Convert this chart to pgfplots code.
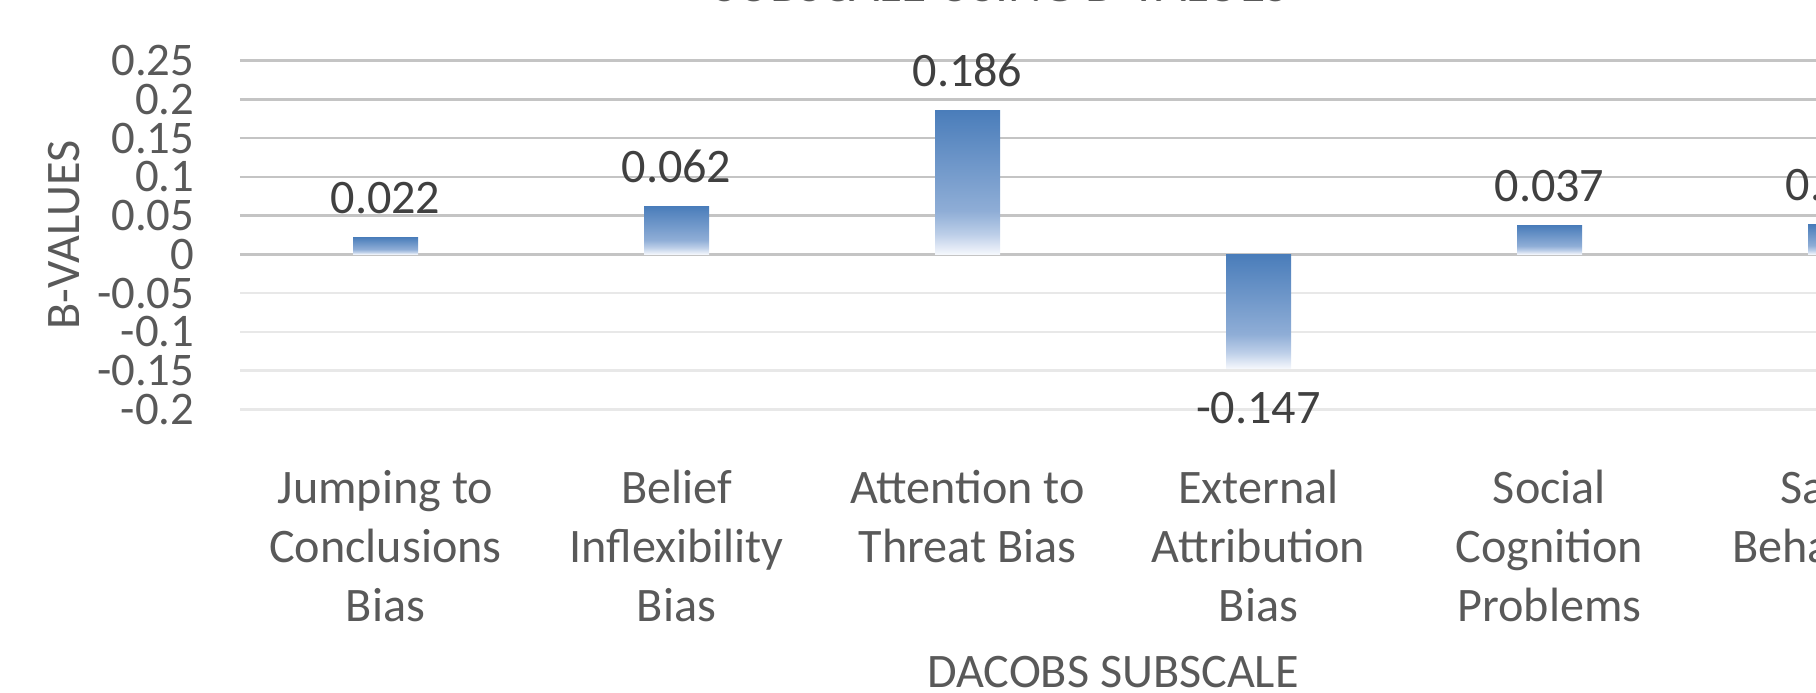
\documentclass[border=0pt]{standalone}
\usepackage{fontspec}
\setmainfont{Carlito}
\usepackage{pgfplots}
\pgfplotsset{compat=1.18}
\definecolor{txt}{HTML}{595959}
\definecolor{lbl}{HTML}{404040}
\definecolor{gridA}{HTML}{C4C4C4}
\definecolor{gridB}{HTML}{E8E8E8}
\pgfdeclareverticalshading{barfade}{100bp}{rgb(0bp)=(0.96,0.97,0.99); rgb(25bp)=(0.96,0.97,0.99); rgb(32bp)=(0.74,0.81,0.91); rgb(40bp)=(0.56,0.68,0.84); rgb(75bp)=(0.29,0.49,0.73); rgb(100bp)=(0.29,0.49,0.73)}
\begin{document}
\begin{tikzpicture}
\useasboundingbox (0,0) rectangle (18.16cm,6.93cm);
\clip (0,0) rectangle (18.16cm,6.93cm);
\node[anchor=base, font=\fontsize{14.7}{17}\selectfont, text=txt] at (10.01cm,6.912cm) {SUBSCALE USING B-VALUES};
\begin{axis}[
  at={(2.40cm,2.836cm)}, anchor=south west,
  scale only axis, width=17.46cm, height=3.488cm,
  xmin=-0.5, xmax=5.5, ymin=-0.2, ymax=0.25,
  enlargelimits=false,
  axis line style={draw=none}, tick style={draw=none},
  font=\fontsize{13.7}{16.8}\selectfont,
  ymajorgrids, major grid style={gridA, line width=0.7pt},
  ytick={0,0.05,0.1,0.15,0.2,0.25},
  yticklabels={0,0.05,0.1,0.15,0.2,0.25},
  extra y ticks={-0.05,-0.1,-0.15,-0.2},
  extra y tick labels={-0.05,-0.1,-0.15,-0.2},
  extra y tick style={major grid style={gridB, line width=0.7pt}},
  yticklabel style={anchor=east, inner sep=0pt, xshift=-0.45cm, text=txt, font=\fontsize{13.3}{16}\selectfont},
  xtick={0,1,2,3,4,5},
  xticklabels={{Jumping to\\Conclusions\\Bias},{Belief\\Inflexibility\\Bias},{Attention to\\Threat Bias},{External\\Attribution\\Bias},{Social\\Cognition\\Problems},{Safety\\Behaviours}},
  xticklabel style={align=center, anchor=north, inner sep=0pt, yshift=-0.45cm, text=txt},
  ylabel={B-VALUES},
  every axis y label/.style={at={(axis description cs:-0.1008,0.5)}, rotate=90, anchor=center, text=txt},
  xlabel={DACOBS SUBSCALE},
  every axis x label/.style={at={(axis description cs:0.5,0)}, anchor=center, yshift=-2.63cm, text=txt},
  ybar, bar width=0.65cm,
  nodes near coords, point meta=y,
  nodes near coords={\pgfmathprintnumber[fixed, precision=3, /pgf/number format/assume math mode=true]{\pgfplotspointmeta}},
  every node near coord/.append style={text=lbl, inner xsep=0pt, inner ysep=6.5pt, font=\fontsize{13.7}{16.8}\selectfont},
]
\addplot[draw=none, shading=barfade, bar shift=0pt] coordinates {(0,0.022)};
\addplot[draw=none, shading=barfade, bar shift=0pt] coordinates {(1,0.062)};
\addplot[draw=none, shading=barfade, bar shift=0pt] coordinates {(2,0.186)};
\addplot[draw=none, shading=barfade, bar shift=0pt] coordinates {(3,-0.147)};
\addplot[draw=none, shading=barfade, bar shift=0pt] coordinates {(4,0.037)};
\addplot[draw=none, shading=barfade, bar shift=0pt] coordinates {(5,0.038)};
\end{axis}
\end{tikzpicture}
\end{document}
